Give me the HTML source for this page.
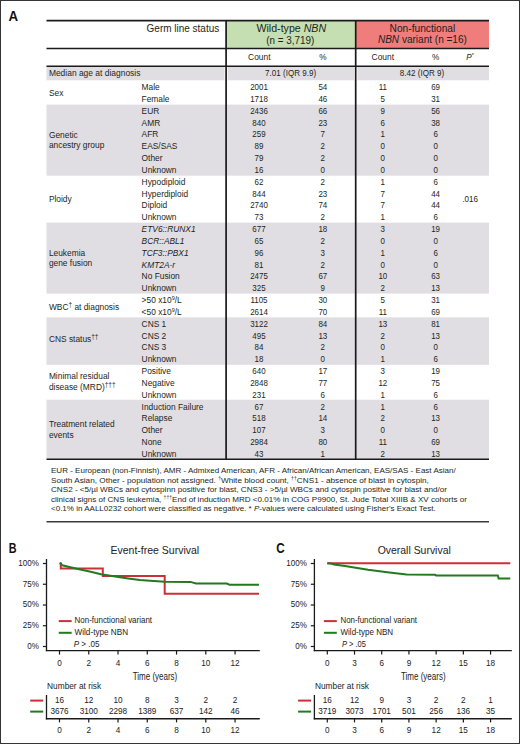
<!DOCTYPE html>
<html lang="en">
<head>
<meta charset="utf-8">
<title>NBN germline variants - patient characteristics and survival</title>
<style>
  html, body { margin: 0; padding: 0; background: #fff; }
  body { width: 520px; height: 744px; overflow: hidden; font-family: "Liberation Sans", sans-serif; }
  .fig { position: relative; width: 520px; height: 744px; box-sizing: border-box;
         border: 1px solid #353535; background: #fff; }
  .fig svg { position: absolute; left: -1px; top: -1px; }
  svg text { font-family: "Liberation Sans", sans-serif; }
</style>
</head>
<body>
<div class="fig">
<svg fill="#231f20" width="520" height="744" viewBox="0 0 520 744">
<rect x="226.10" y="20.50" width="129.60" height="28.00" fill="#c5dfb2"/>
<rect x="355.70" y="20.50" width="133.30" height="28.00" fill="#ee7d7c"/>
<rect x="46.50" y="66.50" width="442.50" height="13.80" fill="#e0dee3"/>
<rect x="46.50" y="104.60" width="442.50" height="71.10" fill="#e0dee3"/>
<rect x="46.50" y="222.60" width="442.50" height="71.00" fill="#e0dee3"/>
<rect x="46.50" y="317.30" width="442.50" height="47.50" fill="#e0dee3"/>
<rect x="46.50" y="399.70" width="442.50" height="59.30" fill="#e0dee3"/>
<rect x="224.50" y="66.50" width="3.20" height="13.90" fill="#ffffff"/>
<rect x="354.10" y="66.50" width="3.20" height="13.90" fill="#ffffff"/>
<line x1="46.50" y1="20.60" x2="489.00" y2="20.60" stroke="#1a1a1a" stroke-width="1.6"/>
<line x1="46.50" y1="48.60" x2="489.00" y2="48.60" stroke="#1a1a1a" stroke-width="1.5"/>
<line x1="46.50" y1="66.30" x2="489.00" y2="66.30" stroke="#1a1a1a" stroke-width="1.5"/>
<line x1="46.50" y1="459.30" x2="489.00" y2="459.30" stroke="#1a1a1a" stroke-width="1.5"/>
<line x1="226.10" y1="20.00" x2="226.10" y2="460.00" stroke="#1a1a1a" stroke-width="1.7"/>
<line x1="355.70" y1="20.00" x2="355.70" y2="460.00" stroke="#1a1a1a" stroke-width="1.7"/>
<line x1="46.50" y1="521.70" x2="489.00" y2="521.70" stroke="#3a3a3a" stroke-width="1.6"/>
<text x="219.20" y="31.80" font-size="10" text-anchor="end" textLength="72.60" lengthAdjust="spacingAndGlyphs">Germ line status</text>
<text x="291.30" y="32.30" font-size="10" text-anchor="middle" textLength="69.70" lengthAdjust="spacingAndGlyphs">Wild-type <tspan font-style="italic">NBN</tspan></text>
<text x="290.30" y="43.60" font-size="10" text-anchor="middle" textLength="48.10" lengthAdjust="spacingAndGlyphs">(n = 3,719)</text>
<text x="422.40" y="32.20" font-size="10" text-anchor="middle" textLength="65.70" lengthAdjust="spacingAndGlyphs">Non-functional</text>
<text x="422.40" y="43.40" font-size="10" text-anchor="middle" textLength="88.90" lengthAdjust="spacingAndGlyphs"><tspan font-style="italic">NBN</tspan> variant (n =16)</text>
<text x="259.30" y="59.80" font-size="8.2" text-anchor="middle" textLength="22.50" lengthAdjust="spacingAndGlyphs">Count</text>
<text x="382.80" y="59.80" font-size="8.2" text-anchor="middle" textLength="22.50" lengthAdjust="spacingAndGlyphs">Count</text>
<text x="322.90" y="59.80" font-size="8.2" text-anchor="middle">%</text>
<text x="435.70" y="59.80" font-size="8.2" text-anchor="middle">%</text>
<text x="470.00" y="59.80" font-size="8.2" text-anchor="middle"><tspan font-style="italic">P</tspan><tspan font-size="5.5" dy="-2.5">*</tspan></text>
<text x="48.90" y="76.00" font-size="8.2" textLength="91.50" lengthAdjust="spacingAndGlyphs">Median age at diagnosis</text>
<text x="290.60" y="76.00" font-size="8.6" text-anchor="middle" textLength="51.00" lengthAdjust="spacingAndGlyphs">7.01 (IQR 9.9)</text>
<text x="422.00" y="76.00" font-size="8.6" text-anchor="middle" textLength="44.30" lengthAdjust="spacingAndGlyphs">8.42 (IQR 9)</text>
<text x="48.90" y="96.00" font-size="8.4">Sex</text>
<text x="141.60" y="90.10" font-size="8.4">Male</text>
<text x="259.00" y="90.10" font-size="8.6" text-anchor="middle" textLength="17.68" lengthAdjust="spacingAndGlyphs">2001</text>
<text x="322.80" y="90.10" font-size="8.6" text-anchor="middle" textLength="8.84" lengthAdjust="spacingAndGlyphs">54</text>
<text x="382.80" y="90.10" font-size="8.6" text-anchor="middle" textLength="8.25" lengthAdjust="spacingAndGlyphs">11</text>
<text x="435.60" y="90.10" font-size="8.6" text-anchor="middle" textLength="8.84" lengthAdjust="spacingAndGlyphs">69</text>
<text x="141.60" y="101.93" font-size="8.4">Female</text>
<text x="259.00" y="101.93" font-size="8.6" text-anchor="middle" textLength="17.68" lengthAdjust="spacingAndGlyphs">1718</text>
<text x="322.80" y="101.93" font-size="8.6" text-anchor="middle" textLength="8.84" lengthAdjust="spacingAndGlyphs">46</text>
<text x="382.80" y="101.93" font-size="8.6" text-anchor="middle" textLength="4.42" lengthAdjust="spacingAndGlyphs">5</text>
<text x="435.60" y="101.93" font-size="8.6" text-anchor="middle" textLength="8.84" lengthAdjust="spacingAndGlyphs">31</text>
<text x="48.90" y="137.70" font-size="8.4">Genetic</text>
<text x="48.90" y="148.10" font-size="8.4">ancestry group</text>
<text x="141.60" y="113.76" font-size="8.4">EUR</text>
<text x="259.00" y="113.76" font-size="8.6" text-anchor="middle" textLength="17.68" lengthAdjust="spacingAndGlyphs">2436</text>
<text x="322.80" y="113.76" font-size="8.6" text-anchor="middle" textLength="8.84" lengthAdjust="spacingAndGlyphs">66</text>
<text x="382.80" y="113.76" font-size="8.6" text-anchor="middle" textLength="4.42" lengthAdjust="spacingAndGlyphs">9</text>
<text x="435.60" y="113.76" font-size="8.6" text-anchor="middle" textLength="8.84" lengthAdjust="spacingAndGlyphs">56</text>
<text x="141.60" y="125.59" font-size="8.4">AMR</text>
<text x="259.00" y="125.59" font-size="8.6" text-anchor="middle" textLength="13.26" lengthAdjust="spacingAndGlyphs">840</text>
<text x="322.80" y="125.59" font-size="8.6" text-anchor="middle" textLength="8.84" lengthAdjust="spacingAndGlyphs">23</text>
<text x="382.80" y="125.59" font-size="8.6" text-anchor="middle" textLength="4.42" lengthAdjust="spacingAndGlyphs">6</text>
<text x="435.60" y="125.59" font-size="8.6" text-anchor="middle" textLength="8.84" lengthAdjust="spacingAndGlyphs">38</text>
<text x="141.60" y="137.42" font-size="8.4">AFR</text>
<text x="259.00" y="137.42" font-size="8.6" text-anchor="middle" textLength="13.26" lengthAdjust="spacingAndGlyphs">259</text>
<text x="322.80" y="137.42" font-size="8.6" text-anchor="middle" textLength="4.42" lengthAdjust="spacingAndGlyphs">7</text>
<text x="382.80" y="137.42" font-size="8.6" text-anchor="middle" textLength="4.42" lengthAdjust="spacingAndGlyphs">1</text>
<text x="435.60" y="137.42" font-size="8.6" text-anchor="middle" textLength="4.42" lengthAdjust="spacingAndGlyphs">6</text>
<text x="141.60" y="149.25" font-size="8.4">EAS/SAS</text>
<text x="259.00" y="149.25" font-size="8.6" text-anchor="middle" textLength="8.84" lengthAdjust="spacingAndGlyphs">89</text>
<text x="322.80" y="149.25" font-size="8.6" text-anchor="middle" textLength="4.42" lengthAdjust="spacingAndGlyphs">2</text>
<text x="382.80" y="149.25" font-size="8.6" text-anchor="middle" textLength="4.42" lengthAdjust="spacingAndGlyphs">0</text>
<text x="435.60" y="149.25" font-size="8.6" text-anchor="middle" textLength="4.42" lengthAdjust="spacingAndGlyphs">0</text>
<text x="141.60" y="161.08" font-size="8.4">Other</text>
<text x="259.00" y="161.08" font-size="8.6" text-anchor="middle" textLength="8.84" lengthAdjust="spacingAndGlyphs">79</text>
<text x="322.80" y="161.08" font-size="8.6" text-anchor="middle" textLength="4.42" lengthAdjust="spacingAndGlyphs">2</text>
<text x="382.80" y="161.08" font-size="8.6" text-anchor="middle" textLength="4.42" lengthAdjust="spacingAndGlyphs">0</text>
<text x="435.60" y="161.08" font-size="8.6" text-anchor="middle" textLength="4.42" lengthAdjust="spacingAndGlyphs">0</text>
<text x="141.60" y="172.91" font-size="8.4">Unknown</text>
<text x="259.00" y="172.91" font-size="8.6" text-anchor="middle" textLength="8.84" lengthAdjust="spacingAndGlyphs">16</text>
<text x="322.80" y="172.91" font-size="8.6" text-anchor="middle" textLength="4.42" lengthAdjust="spacingAndGlyphs">0</text>
<text x="382.80" y="172.91" font-size="8.6" text-anchor="middle" textLength="4.42" lengthAdjust="spacingAndGlyphs">0</text>
<text x="435.60" y="172.91" font-size="8.6" text-anchor="middle" textLength="4.42" lengthAdjust="spacingAndGlyphs">0</text>
<text x="48.90" y="202.20" font-size="8.4">Ploidy</text>
<text x="141.60" y="184.74" font-size="8.4">Hypodiploid</text>
<text x="259.00" y="184.74" font-size="8.6" text-anchor="middle" textLength="8.84" lengthAdjust="spacingAndGlyphs">62</text>
<text x="322.80" y="184.74" font-size="8.6" text-anchor="middle" textLength="4.42" lengthAdjust="spacingAndGlyphs">2</text>
<text x="382.80" y="184.74" font-size="8.6" text-anchor="middle" textLength="4.42" lengthAdjust="spacingAndGlyphs">1</text>
<text x="435.60" y="184.74" font-size="8.6" text-anchor="middle" textLength="4.42" lengthAdjust="spacingAndGlyphs">6</text>
<text x="141.60" y="196.57" font-size="8.4">Hyperdiploid</text>
<text x="259.00" y="196.57" font-size="8.6" text-anchor="middle" textLength="13.26" lengthAdjust="spacingAndGlyphs">844</text>
<text x="322.80" y="196.57" font-size="8.6" text-anchor="middle" textLength="8.84" lengthAdjust="spacingAndGlyphs">23</text>
<text x="382.80" y="196.57" font-size="8.6" text-anchor="middle" textLength="4.42" lengthAdjust="spacingAndGlyphs">7</text>
<text x="435.60" y="196.57" font-size="8.6" text-anchor="middle" textLength="8.84" lengthAdjust="spacingAndGlyphs">44</text>
<text x="141.60" y="208.40" font-size="8.4">Diploid</text>
<text x="259.00" y="208.40" font-size="8.6" text-anchor="middle" textLength="17.68" lengthAdjust="spacingAndGlyphs">2740</text>
<text x="322.80" y="208.40" font-size="8.6" text-anchor="middle" textLength="8.84" lengthAdjust="spacingAndGlyphs">74</text>
<text x="382.80" y="208.40" font-size="8.6" text-anchor="middle" textLength="4.42" lengthAdjust="spacingAndGlyphs">7</text>
<text x="435.60" y="208.40" font-size="8.6" text-anchor="middle" textLength="8.84" lengthAdjust="spacingAndGlyphs">44</text>
<text x="141.60" y="220.23" font-size="8.4">Unknown</text>
<text x="259.00" y="220.23" font-size="8.6" text-anchor="middle" textLength="8.84" lengthAdjust="spacingAndGlyphs">73</text>
<text x="322.80" y="220.23" font-size="8.6" text-anchor="middle" textLength="4.42" lengthAdjust="spacingAndGlyphs">2</text>
<text x="382.80" y="220.23" font-size="8.6" text-anchor="middle" textLength="4.42" lengthAdjust="spacingAndGlyphs">1</text>
<text x="435.60" y="220.23" font-size="8.6" text-anchor="middle" textLength="4.42" lengthAdjust="spacingAndGlyphs">6</text>
<text x="48.90" y="255.90" font-size="8.4">Leukemia</text>
<text x="48.90" y="266.30" font-size="8.4">gene fusion</text>
<text x="141.60" y="232.06" font-size="8.4"><tspan font-style="italic">ETV6::RUNX1</tspan></text>
<text x="259.00" y="232.06" font-size="8.6" text-anchor="middle" textLength="13.26" lengthAdjust="spacingAndGlyphs">677</text>
<text x="322.80" y="232.06" font-size="8.6" text-anchor="middle" textLength="8.84" lengthAdjust="spacingAndGlyphs">18</text>
<text x="382.80" y="232.06" font-size="8.6" text-anchor="middle" textLength="4.42" lengthAdjust="spacingAndGlyphs">3</text>
<text x="435.60" y="232.06" font-size="8.6" text-anchor="middle" textLength="8.84" lengthAdjust="spacingAndGlyphs">19</text>
<text x="141.60" y="243.89" font-size="8.4"><tspan font-style="italic">BCR::ABL1</tspan></text>
<text x="259.00" y="243.89" font-size="8.6" text-anchor="middle" textLength="8.84" lengthAdjust="spacingAndGlyphs">65</text>
<text x="322.80" y="243.89" font-size="8.6" text-anchor="middle" textLength="4.42" lengthAdjust="spacingAndGlyphs">2</text>
<text x="382.80" y="243.89" font-size="8.6" text-anchor="middle" textLength="4.42" lengthAdjust="spacingAndGlyphs">0</text>
<text x="435.60" y="243.89" font-size="8.6" text-anchor="middle" textLength="4.42" lengthAdjust="spacingAndGlyphs">0</text>
<text x="141.60" y="255.72" font-size="8.4"><tspan font-style="italic">TCF3::PBX1</tspan></text>
<text x="259.00" y="255.72" font-size="8.6" text-anchor="middle" textLength="8.84" lengthAdjust="spacingAndGlyphs">96</text>
<text x="322.80" y="255.72" font-size="8.6" text-anchor="middle" textLength="4.42" lengthAdjust="spacingAndGlyphs">3</text>
<text x="382.80" y="255.72" font-size="8.6" text-anchor="middle" textLength="4.42" lengthAdjust="spacingAndGlyphs">1</text>
<text x="435.60" y="255.72" font-size="8.6" text-anchor="middle" textLength="4.42" lengthAdjust="spacingAndGlyphs">6</text>
<text x="141.60" y="267.55" font-size="8.4"><tspan font-style="italic">KMT2A-r</tspan></text>
<text x="259.00" y="267.55" font-size="8.6" text-anchor="middle" textLength="8.84" lengthAdjust="spacingAndGlyphs">81</text>
<text x="322.80" y="267.55" font-size="8.6" text-anchor="middle" textLength="4.42" lengthAdjust="spacingAndGlyphs">2</text>
<text x="382.80" y="267.55" font-size="8.6" text-anchor="middle" textLength="4.42" lengthAdjust="spacingAndGlyphs">0</text>
<text x="435.60" y="267.55" font-size="8.6" text-anchor="middle" textLength="4.42" lengthAdjust="spacingAndGlyphs">0</text>
<text x="141.60" y="279.38" font-size="8.4">No Fusion</text>
<text x="259.00" y="279.38" font-size="8.6" text-anchor="middle" textLength="17.68" lengthAdjust="spacingAndGlyphs">2475</text>
<text x="322.80" y="279.38" font-size="8.6" text-anchor="middle" textLength="8.84" lengthAdjust="spacingAndGlyphs">67</text>
<text x="382.80" y="279.38" font-size="8.6" text-anchor="middle" textLength="8.84" lengthAdjust="spacingAndGlyphs">10</text>
<text x="435.60" y="279.38" font-size="8.6" text-anchor="middle" textLength="8.84" lengthAdjust="spacingAndGlyphs">63</text>
<text x="141.60" y="291.21" font-size="8.4">Unknown</text>
<text x="259.00" y="291.21" font-size="8.6" text-anchor="middle" textLength="13.26" lengthAdjust="spacingAndGlyphs">325</text>
<text x="322.80" y="291.21" font-size="8.6" text-anchor="middle" textLength="4.42" lengthAdjust="spacingAndGlyphs">9</text>
<text x="382.80" y="291.21" font-size="8.6" text-anchor="middle" textLength="4.42" lengthAdjust="spacingAndGlyphs">2</text>
<text x="435.60" y="291.21" font-size="8.6" text-anchor="middle" textLength="8.84" lengthAdjust="spacingAndGlyphs">13</text>
<text x="48.90" y="309.50" font-size="8.4">WBC<tspan font-size="6.5" dy="-3">†</tspan><tspan dy="3"> at diagnosis</tspan></text>
<text x="141.60" y="303.04" font-size="8.4">&gt;50 x10<tspan font-size="5.5" dy="-3">9</tspan><tspan dy="3">/L</tspan></text>
<text x="259.00" y="303.04" font-size="8.6" text-anchor="middle" textLength="17.09" lengthAdjust="spacingAndGlyphs">1105</text>
<text x="322.80" y="303.04" font-size="8.6" text-anchor="middle" textLength="8.84" lengthAdjust="spacingAndGlyphs">30</text>
<text x="382.80" y="303.04" font-size="8.6" text-anchor="middle" textLength="4.42" lengthAdjust="spacingAndGlyphs">5</text>
<text x="435.60" y="303.04" font-size="8.6" text-anchor="middle" textLength="8.84" lengthAdjust="spacingAndGlyphs">31</text>
<text x="141.60" y="314.87" font-size="8.4">&lt;50 x10<tspan font-size="5.5" dy="-3">9</tspan><tspan dy="3">/L</tspan></text>
<text x="259.00" y="314.87" font-size="8.6" text-anchor="middle" textLength="17.68" lengthAdjust="spacingAndGlyphs">2614</text>
<text x="322.80" y="314.87" font-size="8.6" text-anchor="middle" textLength="8.84" lengthAdjust="spacingAndGlyphs">70</text>
<text x="382.80" y="314.87" font-size="8.6" text-anchor="middle" textLength="8.25" lengthAdjust="spacingAndGlyphs">11</text>
<text x="435.60" y="314.87" font-size="8.6" text-anchor="middle" textLength="8.84" lengthAdjust="spacingAndGlyphs">69</text>
<text x="48.90" y="341.60" font-size="8.4">CNS status<tspan font-size="6.5" dy="-3">††</tspan></text>
<text x="141.60" y="326.70" font-size="8.4">CNS 1</text>
<text x="259.00" y="326.70" font-size="8.6" text-anchor="middle" textLength="17.68" lengthAdjust="spacingAndGlyphs">3122</text>
<text x="322.80" y="326.70" font-size="8.6" text-anchor="middle" textLength="8.84" lengthAdjust="spacingAndGlyphs">84</text>
<text x="382.80" y="326.70" font-size="8.6" text-anchor="middle" textLength="8.84" lengthAdjust="spacingAndGlyphs">13</text>
<text x="435.60" y="326.70" font-size="8.6" text-anchor="middle" textLength="8.84" lengthAdjust="spacingAndGlyphs">81</text>
<text x="141.60" y="338.53" font-size="8.4">CNS 2</text>
<text x="259.00" y="338.53" font-size="8.6" text-anchor="middle" textLength="13.26" lengthAdjust="spacingAndGlyphs">495</text>
<text x="322.80" y="338.53" font-size="8.6" text-anchor="middle" textLength="8.84" lengthAdjust="spacingAndGlyphs">13</text>
<text x="382.80" y="338.53" font-size="8.6" text-anchor="middle" textLength="4.42" lengthAdjust="spacingAndGlyphs">2</text>
<text x="435.60" y="338.53" font-size="8.6" text-anchor="middle" textLength="8.84" lengthAdjust="spacingAndGlyphs">13</text>
<text x="141.60" y="350.36" font-size="8.4">CNS 3</text>
<text x="259.00" y="350.36" font-size="8.6" text-anchor="middle" textLength="8.84" lengthAdjust="spacingAndGlyphs">84</text>
<text x="322.80" y="350.36" font-size="8.6" text-anchor="middle" textLength="4.42" lengthAdjust="spacingAndGlyphs">2</text>
<text x="382.80" y="350.36" font-size="8.6" text-anchor="middle" textLength="4.42" lengthAdjust="spacingAndGlyphs">0</text>
<text x="435.60" y="350.36" font-size="8.6" text-anchor="middle" textLength="4.42" lengthAdjust="spacingAndGlyphs">0</text>
<text x="141.60" y="362.19" font-size="8.4">Unknown</text>
<text x="259.00" y="362.19" font-size="8.6" text-anchor="middle" textLength="8.84" lengthAdjust="spacingAndGlyphs">18</text>
<text x="322.80" y="362.19" font-size="8.6" text-anchor="middle" textLength="4.42" lengthAdjust="spacingAndGlyphs">0</text>
<text x="382.80" y="362.19" font-size="8.6" text-anchor="middle" textLength="4.42" lengthAdjust="spacingAndGlyphs">1</text>
<text x="435.60" y="362.19" font-size="8.6" text-anchor="middle" textLength="4.42" lengthAdjust="spacingAndGlyphs">6</text>
<text x="48.90" y="378.50" font-size="8.4">Minimal residual</text>
<text x="48.90" y="389.60" font-size="8.4">disease (MRD)<tspan font-size="6.5" dy="-3">†††</tspan></text>
<text x="141.60" y="374.02" font-size="8.4">Positive</text>
<text x="259.00" y="374.02" font-size="8.6" text-anchor="middle" textLength="13.26" lengthAdjust="spacingAndGlyphs">640</text>
<text x="322.80" y="374.02" font-size="8.6" text-anchor="middle" textLength="8.84" lengthAdjust="spacingAndGlyphs">17</text>
<text x="382.80" y="374.02" font-size="8.6" text-anchor="middle" textLength="4.42" lengthAdjust="spacingAndGlyphs">3</text>
<text x="435.60" y="374.02" font-size="8.6" text-anchor="middle" textLength="8.84" lengthAdjust="spacingAndGlyphs">19</text>
<text x="141.60" y="385.85" font-size="8.4">Negative</text>
<text x="259.00" y="385.85" font-size="8.6" text-anchor="middle" textLength="17.68" lengthAdjust="spacingAndGlyphs">2848</text>
<text x="322.80" y="385.85" font-size="8.6" text-anchor="middle" textLength="8.84" lengthAdjust="spacingAndGlyphs">77</text>
<text x="382.80" y="385.85" font-size="8.6" text-anchor="middle" textLength="8.84" lengthAdjust="spacingAndGlyphs">12</text>
<text x="435.60" y="385.85" font-size="8.6" text-anchor="middle" textLength="8.84" lengthAdjust="spacingAndGlyphs">75</text>
<text x="141.60" y="397.68" font-size="8.4">Unknown</text>
<text x="259.00" y="397.68" font-size="8.6" text-anchor="middle" textLength="13.26" lengthAdjust="spacingAndGlyphs">231</text>
<text x="322.80" y="397.68" font-size="8.6" text-anchor="middle" textLength="4.42" lengthAdjust="spacingAndGlyphs">6</text>
<text x="382.80" y="397.68" font-size="8.6" text-anchor="middle" textLength="4.42" lengthAdjust="spacingAndGlyphs">1</text>
<text x="435.60" y="397.68" font-size="8.6" text-anchor="middle" textLength="4.42" lengthAdjust="spacingAndGlyphs">6</text>
<text x="48.90" y="427.20" font-size="8.4">Treatment related</text>
<text x="48.90" y="437.50" font-size="8.4">events</text>
<text x="141.60" y="409.51" font-size="8.4">Induction Failure</text>
<text x="259.00" y="409.51" font-size="8.6" text-anchor="middle" textLength="8.84" lengthAdjust="spacingAndGlyphs">67</text>
<text x="322.80" y="409.51" font-size="8.6" text-anchor="middle" textLength="4.42" lengthAdjust="spacingAndGlyphs">2</text>
<text x="382.80" y="409.51" font-size="8.6" text-anchor="middle" textLength="4.42" lengthAdjust="spacingAndGlyphs">1</text>
<text x="435.60" y="409.51" font-size="8.6" text-anchor="middle" textLength="4.42" lengthAdjust="spacingAndGlyphs">6</text>
<text x="141.60" y="421.34" font-size="8.4">Relapse</text>
<text x="259.00" y="421.34" font-size="8.6" text-anchor="middle" textLength="13.26" lengthAdjust="spacingAndGlyphs">518</text>
<text x="322.80" y="421.34" font-size="8.6" text-anchor="middle" textLength="8.84" lengthAdjust="spacingAndGlyphs">14</text>
<text x="382.80" y="421.34" font-size="8.6" text-anchor="middle" textLength="4.42" lengthAdjust="spacingAndGlyphs">2</text>
<text x="435.60" y="421.34" font-size="8.6" text-anchor="middle" textLength="8.84" lengthAdjust="spacingAndGlyphs">13</text>
<text x="141.60" y="433.17" font-size="8.4">Other</text>
<text x="259.00" y="433.17" font-size="8.6" text-anchor="middle" textLength="13.26" lengthAdjust="spacingAndGlyphs">107</text>
<text x="322.80" y="433.17" font-size="8.6" text-anchor="middle" textLength="4.42" lengthAdjust="spacingAndGlyphs">3</text>
<text x="382.80" y="433.17" font-size="8.6" text-anchor="middle" textLength="4.42" lengthAdjust="spacingAndGlyphs">0</text>
<text x="435.60" y="433.17" font-size="8.6" text-anchor="middle" textLength="4.42" lengthAdjust="spacingAndGlyphs">0</text>
<text x="141.60" y="445.00" font-size="8.4">None</text>
<text x="259.00" y="445.00" font-size="8.6" text-anchor="middle" textLength="17.68" lengthAdjust="spacingAndGlyphs">2984</text>
<text x="322.80" y="445.00" font-size="8.6" text-anchor="middle" textLength="8.84" lengthAdjust="spacingAndGlyphs">80</text>
<text x="382.80" y="445.00" font-size="8.6" text-anchor="middle" textLength="8.25" lengthAdjust="spacingAndGlyphs">11</text>
<text x="435.60" y="445.00" font-size="8.6" text-anchor="middle" textLength="8.84" lengthAdjust="spacingAndGlyphs">69</text>
<text x="141.60" y="456.83" font-size="8.4">Unknown</text>
<text x="259.00" y="456.83" font-size="8.6" text-anchor="middle" textLength="8.84" lengthAdjust="spacingAndGlyphs">43</text>
<text x="322.80" y="456.83" font-size="8.6" text-anchor="middle" textLength="4.42" lengthAdjust="spacingAndGlyphs">1</text>
<text x="382.80" y="456.83" font-size="8.6" text-anchor="middle" textLength="4.42" lengthAdjust="spacingAndGlyphs">2</text>
<text x="435.60" y="456.83" font-size="8.6" text-anchor="middle" textLength="8.84" lengthAdjust="spacingAndGlyphs">13</text>
<text x="470.20" y="202.00" font-size="8.6" text-anchor="middle" textLength="15.60" lengthAdjust="spacingAndGlyphs">.016</text>
<text x="51.00" y="472.90" font-size="8.0" textLength="404.70" lengthAdjust="spacingAndGlyphs">EUR - European (non-Finnish), AMR - Admixed American, AFR - African/African American, EAS/SAS - East Asian/</text>
<text x="51.00" y="482.52" font-size="8.0" textLength="377.90" lengthAdjust="spacingAndGlyphs">South Asian, Other - population not assigned. <tspan font-size="5" dy="-3">†</tspan><tspan dy="3">White blood count, </tspan><tspan font-size="5" dy="-3">††</tspan><tspan dy="3">CNS1 - absence of blast in cytospin,</tspan></text>
<text x="51.00" y="492.14" font-size="8.0" textLength="395.90" lengthAdjust="spacingAndGlyphs">CNS2 - &lt;5/µl WBCs and cytospinn positive for blast, CNS3 - &gt;5/µl WBCs and cytospin positive for blast and/or</text>
<text x="51.00" y="501.76" font-size="8.0" textLength="415.90" lengthAdjust="spacingAndGlyphs">clinical signs of CNS leukemia, <tspan font-size="5" dy="-3">†††</tspan><tspan dy="3">End of induction MRD &lt;0.01% in COG P9900, St. Jude Total XIIIB &amp; XV cohorts or</tspan></text>
<text x="51.00" y="511.38" font-size="8.0" textLength="384.70" lengthAdjust="spacingAndGlyphs">&lt;0.1% in AALL0232 cohort were classified as negative. * <tspan font-style="italic">P</tspan>-values were calculated using Fisher's Exact Test.</text>
<text x="8.60" y="20.80" font-size="14" font-weight="bold" fill="#111" textLength="9.60" lengthAdjust="spacingAndGlyphs">A</text>
<text x="8.80" y="553.00" font-size="14" font-weight="bold" fill="#111" textLength="7.80" lengthAdjust="spacingAndGlyphs">B</text>
<text x="276.20" y="553.10" font-size="14" font-weight="bold" fill="#111" textLength="8.40" lengthAdjust="spacingAndGlyphs">C</text>
<line x1="46.50" y1="559.00" x2="46.50" y2="651.20" stroke="#1a1a1a" stroke-width="1.3"/>
<line x1="45.85" y1="650.60" x2="259.80" y2="650.60" stroke="#1a1a1a" stroke-width="1.4"/>
<line x1="42.90" y1="563.50" x2="46.50" y2="563.50" stroke="#1a1a1a" stroke-width="1.2"/>
<text x="38.90" y="565.90" font-size="8.8" text-anchor="end" fill="#222" textLength="20.59" lengthAdjust="spacingAndGlyphs">100%</text>
<line x1="42.90" y1="584.25" x2="46.50" y2="584.25" stroke="#1a1a1a" stroke-width="1.2"/>
<text x="38.90" y="586.65" font-size="8.8" text-anchor="end" fill="#222" textLength="16.11" lengthAdjust="spacingAndGlyphs">75%</text>
<line x1="42.90" y1="605.00" x2="46.50" y2="605.00" stroke="#1a1a1a" stroke-width="1.2"/>
<text x="38.90" y="607.40" font-size="8.8" text-anchor="end" fill="#222" textLength="16.11" lengthAdjust="spacingAndGlyphs">50%</text>
<line x1="42.90" y1="625.75" x2="46.50" y2="625.75" stroke="#1a1a1a" stroke-width="1.2"/>
<text x="38.90" y="628.15" font-size="8.8" text-anchor="end" fill="#222" textLength="16.11" lengthAdjust="spacingAndGlyphs">25%</text>
<line x1="42.90" y1="646.50" x2="46.50" y2="646.50" stroke="#1a1a1a" stroke-width="1.2"/>
<text x="38.90" y="648.90" font-size="8.8" text-anchor="end" fill="#222" textLength="11.63" lengthAdjust="spacingAndGlyphs">0%</text>
<line x1="59.50" y1="650.60" x2="59.50" y2="654.60" stroke="#1a1a1a" stroke-width="1.2"/>
<text x="59.50" y="665.70" font-size="8.8" text-anchor="middle" fill="#222" textLength="4.56" lengthAdjust="spacingAndGlyphs">0</text>
<line x1="88.76" y1="650.60" x2="88.76" y2="654.60" stroke="#1a1a1a" stroke-width="1.2"/>
<text x="88.76" y="665.70" font-size="8.8" text-anchor="middle" fill="#222" textLength="4.56" lengthAdjust="spacingAndGlyphs">2</text>
<line x1="118.02" y1="650.60" x2="118.02" y2="654.60" stroke="#1a1a1a" stroke-width="1.2"/>
<text x="118.02" y="665.70" font-size="8.8" text-anchor="middle" fill="#222" textLength="4.56" lengthAdjust="spacingAndGlyphs">4</text>
<line x1="147.28" y1="650.60" x2="147.28" y2="654.60" stroke="#1a1a1a" stroke-width="1.2"/>
<text x="147.28" y="665.70" font-size="8.8" text-anchor="middle" fill="#222" textLength="4.56" lengthAdjust="spacingAndGlyphs">6</text>
<line x1="176.54" y1="650.60" x2="176.54" y2="654.60" stroke="#1a1a1a" stroke-width="1.2"/>
<text x="176.54" y="665.70" font-size="8.8" text-anchor="middle" fill="#222" textLength="4.56" lengthAdjust="spacingAndGlyphs">8</text>
<line x1="205.80" y1="650.60" x2="205.80" y2="654.60" stroke="#1a1a1a" stroke-width="1.2"/>
<text x="205.80" y="665.70" font-size="8.8" text-anchor="middle" fill="#222" textLength="9.12" lengthAdjust="spacingAndGlyphs">10</text>
<line x1="235.06" y1="650.60" x2="235.06" y2="654.60" stroke="#1a1a1a" stroke-width="1.2"/>
<text x="235.06" y="665.70" font-size="8.8" text-anchor="middle" fill="#222" textLength="9.12" lengthAdjust="spacingAndGlyphs">12</text>
<text x="155.00" y="680.00" font-size="10.4" text-anchor="middle" fill="#222" textLength="44.60" lengthAdjust="spacingAndGlyphs">Time (years)</text>
<text x="110.50" y="553.80" font-size="10.5" fill="#222" textLength="88.70" lengthAdjust="spacingAndGlyphs">Event-free Survival</text>
<path d="M59.5,563.5 H60.8 V568.6 H102.8 V576 H164.7 V593.8 H259" fill="none" stroke="#cb3038" stroke-width="2.0"/>
<path d="M59.8,563 L60.6,563.4 L62.3,565.3 L70.4,567.2 L78,568.9 L89.6,571.5 L101,574.2 L112,576 L120,577.2 L130,578.7 L140,580 L150,580.8 L165,581.7 L190.4,581.9 L196,583.4 L226.7,583.6 L229.6,584.7 L259,584.8" fill="none" stroke="#217a1f" stroke-width="2.0" stroke-linejoin="miter"/>
<line x1="58.75" y1="621.10" x2="71.65" y2="621.10" stroke="#cb3038" stroke-width="2.0"/>
<line x1="58.75" y1="632.80" x2="71.65" y2="632.80" stroke="#217a1f" stroke-width="2.0"/>
<text x="74.55" y="623.40" font-size="8.8" fill="#222" textLength="77.50" lengthAdjust="spacingAndGlyphs">Non-functional variant</text>
<text x="74.55" y="635.00" font-size="8.8" fill="#222" textLength="53.50" lengthAdjust="spacingAndGlyphs">Wild-type NBN</text>
<text x="73.75" y="647.00" font-size="8.8" fill="#222" textLength="25.70" lengthAdjust="spacingAndGlyphs"><tspan font-style="italic">P</tspan> &gt; .05</text>
<text x="47.10" y="689.20" font-size="8.8" fill="#222" textLength="54.00" lengthAdjust="spacingAndGlyphs">Number at risk</text>
<line x1="46.50" y1="695.00" x2="46.50" y2="719.40" stroke="#1a1a1a" stroke-width="1.3"/>
<line x1="45.85" y1="718.80" x2="259.80" y2="718.80" stroke="#1a1a1a" stroke-width="1.4"/>
<line x1="30.20" y1="700.60" x2="43.20" y2="700.60" stroke="#cb3038" stroke-width="2.0"/>
<line x1="30.20" y1="711.60" x2="43.20" y2="711.60" stroke="#217a1f" stroke-width="2.0"/>
<line x1="59.50" y1="718.80" x2="59.50" y2="722.40" stroke="#1a1a1a" stroke-width="1.2"/>
<text x="59.50" y="702.80" font-size="8.8" text-anchor="middle" fill="#222" textLength="9.12" lengthAdjust="spacingAndGlyphs">16</text>
<text x="59.50" y="713.80" font-size="8.8" text-anchor="middle" fill="#222" textLength="18.24" lengthAdjust="spacingAndGlyphs">3676</text>
<text x="59.50" y="733.30" font-size="8.8" text-anchor="middle" fill="#222" textLength="4.56" lengthAdjust="spacingAndGlyphs">0</text>
<line x1="88.76" y1="718.80" x2="88.76" y2="722.40" stroke="#1a1a1a" stroke-width="1.2"/>
<text x="88.76" y="702.80" font-size="8.8" text-anchor="middle" fill="#222" textLength="9.12" lengthAdjust="spacingAndGlyphs">12</text>
<text x="88.76" y="713.80" font-size="8.8" text-anchor="middle" fill="#222" textLength="18.24" lengthAdjust="spacingAndGlyphs">3100</text>
<text x="88.76" y="733.30" font-size="8.8" text-anchor="middle" fill="#222" textLength="4.56" lengthAdjust="spacingAndGlyphs">2</text>
<line x1="118.02" y1="718.80" x2="118.02" y2="722.40" stroke="#1a1a1a" stroke-width="1.2"/>
<text x="118.02" y="702.80" font-size="8.8" text-anchor="middle" fill="#222" textLength="9.12" lengthAdjust="spacingAndGlyphs">10</text>
<text x="118.02" y="713.80" font-size="8.8" text-anchor="middle" fill="#222" textLength="18.24" lengthAdjust="spacingAndGlyphs">2298</text>
<text x="118.02" y="733.30" font-size="8.8" text-anchor="middle" fill="#222" textLength="4.56" lengthAdjust="spacingAndGlyphs">4</text>
<line x1="147.28" y1="718.80" x2="147.28" y2="722.40" stroke="#1a1a1a" stroke-width="1.2"/>
<text x="147.28" y="702.80" font-size="8.8" text-anchor="middle" fill="#222" textLength="4.56" lengthAdjust="spacingAndGlyphs">8</text>
<text x="147.28" y="713.80" font-size="8.8" text-anchor="middle" fill="#222" textLength="18.24" lengthAdjust="spacingAndGlyphs">1389</text>
<text x="147.28" y="733.30" font-size="8.8" text-anchor="middle" fill="#222" textLength="4.56" lengthAdjust="spacingAndGlyphs">6</text>
<line x1="176.54" y1="718.80" x2="176.54" y2="722.40" stroke="#1a1a1a" stroke-width="1.2"/>
<text x="176.54" y="702.80" font-size="8.8" text-anchor="middle" fill="#222" textLength="4.56" lengthAdjust="spacingAndGlyphs">3</text>
<text x="176.54" y="713.80" font-size="8.8" text-anchor="middle" fill="#222" textLength="13.68" lengthAdjust="spacingAndGlyphs">637</text>
<text x="176.54" y="733.30" font-size="8.8" text-anchor="middle" fill="#222" textLength="4.56" lengthAdjust="spacingAndGlyphs">8</text>
<line x1="205.80" y1="718.80" x2="205.80" y2="722.40" stroke="#1a1a1a" stroke-width="1.2"/>
<text x="205.80" y="702.80" font-size="8.8" text-anchor="middle" fill="#222" textLength="4.56" lengthAdjust="spacingAndGlyphs">2</text>
<text x="205.80" y="713.80" font-size="8.8" text-anchor="middle" fill="#222" textLength="13.68" lengthAdjust="spacingAndGlyphs">142</text>
<text x="205.80" y="733.30" font-size="8.8" text-anchor="middle" fill="#222" textLength="9.12" lengthAdjust="spacingAndGlyphs">10</text>
<line x1="235.06" y1="718.80" x2="235.06" y2="722.40" stroke="#1a1a1a" stroke-width="1.2"/>
<text x="235.06" y="702.80" font-size="8.8" text-anchor="middle" fill="#222" textLength="4.56" lengthAdjust="spacingAndGlyphs">2</text>
<text x="235.06" y="713.80" font-size="8.8" text-anchor="middle" fill="#222" textLength="9.12" lengthAdjust="spacingAndGlyphs">46</text>
<text x="235.06" y="733.30" font-size="8.8" text-anchor="middle" fill="#222" textLength="9.12" lengthAdjust="spacingAndGlyphs">12</text>
<line x1="314.40" y1="559.00" x2="314.40" y2="651.20" stroke="#1a1a1a" stroke-width="1.3"/>
<line x1="313.75" y1="650.60" x2="511.80" y2="650.60" stroke="#1a1a1a" stroke-width="1.4"/>
<line x1="310.80" y1="563.50" x2="314.40" y2="563.50" stroke="#1a1a1a" stroke-width="1.2"/>
<text x="306.80" y="565.90" font-size="8.8" text-anchor="end" fill="#222" textLength="20.59" lengthAdjust="spacingAndGlyphs">100%</text>
<line x1="310.80" y1="584.25" x2="314.40" y2="584.25" stroke="#1a1a1a" stroke-width="1.2"/>
<text x="306.80" y="586.65" font-size="8.8" text-anchor="end" fill="#222" textLength="16.11" lengthAdjust="spacingAndGlyphs">75%</text>
<line x1="310.80" y1="605.00" x2="314.40" y2="605.00" stroke="#1a1a1a" stroke-width="1.2"/>
<text x="306.80" y="607.40" font-size="8.8" text-anchor="end" fill="#222" textLength="16.11" lengthAdjust="spacingAndGlyphs">50%</text>
<line x1="310.80" y1="625.75" x2="314.40" y2="625.75" stroke="#1a1a1a" stroke-width="1.2"/>
<text x="306.80" y="628.15" font-size="8.8" text-anchor="end" fill="#222" textLength="16.11" lengthAdjust="spacingAndGlyphs">25%</text>
<line x1="310.80" y1="646.50" x2="314.40" y2="646.50" stroke="#1a1a1a" stroke-width="1.2"/>
<text x="306.80" y="648.90" font-size="8.8" text-anchor="end" fill="#222" textLength="11.63" lengthAdjust="spacingAndGlyphs">0%</text>
<line x1="327.30" y1="650.60" x2="327.30" y2="654.60" stroke="#1a1a1a" stroke-width="1.2"/>
<text x="327.30" y="665.70" font-size="8.8" text-anchor="middle" fill="#222" textLength="4.56" lengthAdjust="spacingAndGlyphs">0</text>
<line x1="354.51" y1="650.60" x2="354.51" y2="654.60" stroke="#1a1a1a" stroke-width="1.2"/>
<text x="354.51" y="665.70" font-size="8.8" text-anchor="middle" fill="#222" textLength="4.56" lengthAdjust="spacingAndGlyphs">3</text>
<line x1="381.72" y1="650.60" x2="381.72" y2="654.60" stroke="#1a1a1a" stroke-width="1.2"/>
<text x="381.72" y="665.70" font-size="8.8" text-anchor="middle" fill="#222" textLength="4.56" lengthAdjust="spacingAndGlyphs">6</text>
<line x1="408.93" y1="650.60" x2="408.93" y2="654.60" stroke="#1a1a1a" stroke-width="1.2"/>
<text x="408.93" y="665.70" font-size="8.8" text-anchor="middle" fill="#222" textLength="4.56" lengthAdjust="spacingAndGlyphs">9</text>
<line x1="436.14" y1="650.60" x2="436.14" y2="654.60" stroke="#1a1a1a" stroke-width="1.2"/>
<text x="436.14" y="665.70" font-size="8.8" text-anchor="middle" fill="#222" textLength="9.12" lengthAdjust="spacingAndGlyphs">12</text>
<line x1="463.35" y1="650.60" x2="463.35" y2="654.60" stroke="#1a1a1a" stroke-width="1.2"/>
<text x="463.35" y="665.70" font-size="8.8" text-anchor="middle" fill="#222" textLength="9.12" lengthAdjust="spacingAndGlyphs">15</text>
<line x1="490.56" y1="650.60" x2="490.56" y2="654.60" stroke="#1a1a1a" stroke-width="1.2"/>
<text x="490.56" y="665.70" font-size="8.8" text-anchor="middle" fill="#222" textLength="9.12" lengthAdjust="spacingAndGlyphs">18</text>
<text x="423.30" y="680.00" font-size="10.4" text-anchor="middle" fill="#222" textLength="44.60" lengthAdjust="spacingAndGlyphs">Time (years)</text>
<text x="377.70" y="553.80" font-size="10.5" fill="#222" textLength="73.10" lengthAdjust="spacingAndGlyphs">Overall Survival</text>
<path d="M327.3,563.3 H510.3" fill="none" stroke="#cb3038" stroke-width="2.0"/>
<path d="M327.3,563.3 L331,563.5 L334,564.4 L345,566 L368,569.8 L387.3,572.3 L406.5,574.6 L435,574.7 L436,575.4 L497.8,575.5 L498.6,578.4 L510.3,578.5" fill="none" stroke="#217a1f" stroke-width="2.0" stroke-linejoin="miter"/>
<line x1="323.90" y1="621.10" x2="336.80" y2="621.10" stroke="#cb3038" stroke-width="2.0"/>
<line x1="323.90" y1="632.80" x2="336.80" y2="632.80" stroke="#217a1f" stroke-width="2.0"/>
<text x="340.50" y="623.40" font-size="8.8" fill="#222" textLength="76.50" lengthAdjust="spacingAndGlyphs">Non-functional variant</text>
<text x="340.50" y="635.00" font-size="8.8" fill="#222" textLength="52.60" lengthAdjust="spacingAndGlyphs">Wild-type NBN</text>
<text x="341.90" y="647.00" font-size="8.8" fill="#222" textLength="24.10" lengthAdjust="spacingAndGlyphs"><tspan font-style="italic">P</tspan> &gt; .05</text>
<text x="315.00" y="689.20" font-size="8.8" fill="#222" textLength="54.00" lengthAdjust="spacingAndGlyphs">Number at risk</text>
<line x1="314.40" y1="695.00" x2="314.40" y2="719.40" stroke="#1a1a1a" stroke-width="1.3"/>
<line x1="313.75" y1="718.80" x2="511.80" y2="718.80" stroke="#1a1a1a" stroke-width="1.4"/>
<line x1="298.10" y1="700.60" x2="311.10" y2="700.60" stroke="#cb3038" stroke-width="2.0"/>
<line x1="298.10" y1="711.60" x2="311.10" y2="711.60" stroke="#217a1f" stroke-width="2.0"/>
<line x1="327.30" y1="718.80" x2="327.30" y2="722.40" stroke="#1a1a1a" stroke-width="1.2"/>
<text x="327.30" y="702.80" font-size="8.8" text-anchor="middle" fill="#222" textLength="9.12" lengthAdjust="spacingAndGlyphs">16</text>
<text x="327.30" y="713.80" font-size="8.8" text-anchor="middle" fill="#222" textLength="18.24" lengthAdjust="spacingAndGlyphs">3719</text>
<text x="327.30" y="733.30" font-size="8.8" text-anchor="middle" fill="#222" textLength="4.56" lengthAdjust="spacingAndGlyphs">0</text>
<line x1="354.51" y1="718.80" x2="354.51" y2="722.40" stroke="#1a1a1a" stroke-width="1.2"/>
<text x="354.51" y="702.80" font-size="8.8" text-anchor="middle" fill="#222" textLength="9.12" lengthAdjust="spacingAndGlyphs">12</text>
<text x="354.51" y="713.80" font-size="8.8" text-anchor="middle" fill="#222" textLength="18.24" lengthAdjust="spacingAndGlyphs">3073</text>
<text x="354.51" y="733.30" font-size="8.8" text-anchor="middle" fill="#222" textLength="4.56" lengthAdjust="spacingAndGlyphs">3</text>
<line x1="381.72" y1="718.80" x2="381.72" y2="722.40" stroke="#1a1a1a" stroke-width="1.2"/>
<text x="381.72" y="702.80" font-size="8.8" text-anchor="middle" fill="#222" textLength="4.56" lengthAdjust="spacingAndGlyphs">9</text>
<text x="381.72" y="713.80" font-size="8.8" text-anchor="middle" fill="#222" textLength="18.24" lengthAdjust="spacingAndGlyphs">1701</text>
<text x="381.72" y="733.30" font-size="8.8" text-anchor="middle" fill="#222" textLength="4.56" lengthAdjust="spacingAndGlyphs">6</text>
<line x1="408.93" y1="718.80" x2="408.93" y2="722.40" stroke="#1a1a1a" stroke-width="1.2"/>
<text x="408.93" y="702.80" font-size="8.8" text-anchor="middle" fill="#222" textLength="4.56" lengthAdjust="spacingAndGlyphs">3</text>
<text x="408.93" y="713.80" font-size="8.8" text-anchor="middle" fill="#222" textLength="13.68" lengthAdjust="spacingAndGlyphs">501</text>
<text x="408.93" y="733.30" font-size="8.8" text-anchor="middle" fill="#222" textLength="4.56" lengthAdjust="spacingAndGlyphs">9</text>
<line x1="436.14" y1="718.80" x2="436.14" y2="722.40" stroke="#1a1a1a" stroke-width="1.2"/>
<text x="436.14" y="702.80" font-size="8.8" text-anchor="middle" fill="#222" textLength="4.56" lengthAdjust="spacingAndGlyphs">2</text>
<text x="436.14" y="713.80" font-size="8.8" text-anchor="middle" fill="#222" textLength="13.68" lengthAdjust="spacingAndGlyphs">256</text>
<text x="436.14" y="733.30" font-size="8.8" text-anchor="middle" fill="#222" textLength="9.12" lengthAdjust="spacingAndGlyphs">12</text>
<line x1="463.35" y1="718.80" x2="463.35" y2="722.40" stroke="#1a1a1a" stroke-width="1.2"/>
<text x="463.35" y="702.80" font-size="8.8" text-anchor="middle" fill="#222" textLength="4.56" lengthAdjust="spacingAndGlyphs">2</text>
<text x="463.35" y="713.80" font-size="8.8" text-anchor="middle" fill="#222" textLength="13.68" lengthAdjust="spacingAndGlyphs">136</text>
<text x="463.35" y="733.30" font-size="8.8" text-anchor="middle" fill="#222" textLength="9.12" lengthAdjust="spacingAndGlyphs">15</text>
<line x1="490.56" y1="718.80" x2="490.56" y2="722.40" stroke="#1a1a1a" stroke-width="1.2"/>
<text x="490.56" y="702.80" font-size="8.8" text-anchor="middle" fill="#222" textLength="4.56" lengthAdjust="spacingAndGlyphs">1</text>
<text x="490.56" y="713.80" font-size="8.8" text-anchor="middle" fill="#222" textLength="9.12" lengthAdjust="spacingAndGlyphs">35</text>
<text x="490.56" y="733.30" font-size="8.8" text-anchor="middle" fill="#222" textLength="9.12" lengthAdjust="spacingAndGlyphs">18</text>
</svg>
</div>
</body>
</html>
